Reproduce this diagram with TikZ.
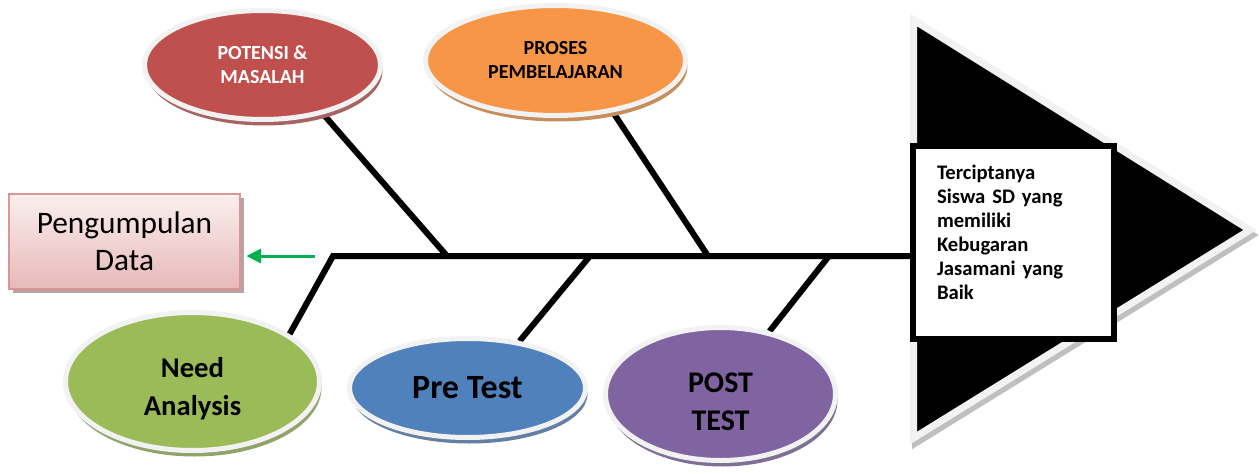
\documentclass[tikz,border=0pt]{standalone}
\usepackage{fontspec}
\setmainfont{Carlito}
\usepackage{xcolor}
\definecolor{fbred}{HTML}{C0504D}
\definecolor{fborange}{HTML}{F79646}
\definecolor{fbgreen}{HTML}{9BBB59}
\definecolor{fbblue}{HTML}{4F81BD}
\definecolor{fbpurple}{HTML}{8064A2}
\definecolor{fbrim}{HTML}{F2F2F2}
\definecolor{fbarrow}{HTML}{00B050}
\definecolor{fbpink}{HTML}{D99694}
\definecolor{fbpinktop}{HTML}{FBEFEF}
\definecolor{fbpinkbot}{HTML}{E6B9B8}
\definecolor{fbshade}{HTML}{B7A3A3}
\definecolor{fbheadshade}{HTML}{BFBFBF}
\usepackage{tikz}
\usetikzlibrary{arrows.meta,shapes.geometric,shadows,backgrounds}
\tikzset{
  fbblob/.style={ellipse,draw=fbrim,line width=3.75pt,fill=#1,inner sep=0pt,align=center,
    general shadow={fill=#1!60!gray,shadow xshift=1.5pt,shadow yshift=-4.5pt}},
  fbdata/.style={draw=fbpink,line width=1.5pt,top color=fbpinktop,bottom color=fbpinkbot,inner sep=0pt,align=center,
    general shadow={fill=fbshade,shadow xshift=3pt,shadow yshift=-3pt}},
  fbresult/.style={draw=black,line width=4.5pt,fill=white,inner sep=0pt,align=left},
  fbrib/.style={line width=4.5pt,black},
  fbflow/.style={-{Triangle[length=11pt,width=10.5pt]},line width=2.25pt,fbarrow,shorten >=4pt},
  fbhead/.style={line width=5.25pt,line join=miter},
}

\begin{document}
\begin{tikzpicture}[x=0.75pt,y=-0.75pt]
\useasboundingbox (0,0) rectangle (1259,474);
\node[fbdata,minimum width=173.25pt,minimum height=71.25pt,font=\fontsize{23.5}{28}\selectfont] (data) at (124.5,241.5) {Pengumpulan\\Data};
\node[fbblob=fbred,minimum width=177pt,minimum height=81.75pt,text=white,font=\fontsize{15}{18}\selectfont\bfseries] (pot) at (262.5,65) {POTENSI \&\\MASALAH};
\node[fbblob=fborange,minimum width=195pt,minimum height=82.5pt,font=\fontsize{15}{18}\selectfont\bfseries] (pro) at (555.5,60.5) {PROSES\\PEMBELAJARAN};
\node[fbblob=fbgreen,minimum width=190.5pt,minimum height=103.5pt,font=\fontsize{21.5}{28.5}\selectfont\bfseries] (need) at (192.5,381.5) {\rule{0pt}{25.5pt}Need\\Analysis};
\node[fbblob=fbblue,minimum width=177pt,minimum height=74.25pt,font=\fontsize{25.5}{30}\selectfont\bfseries] (pre) at (467.5,388) {Pre Test};
\node[fbblob=fbpurple,minimum width=172.5pt,minimum height=99.75pt,font=\fontsize{22.5}{28.5}\selectfont\bfseries] (post) at (720.5,394) {\rule{0pt}{26.5pt}POST\\TEST};
\node[fbresult,minimum width=150.75pt,minimum height=144.75pt,text width=114.75pt,font=\fontsize{15.5}{18}\selectfont\bfseries] (res) at (1013.5,242.5) {Terciptanya\\Siswa SD yang\\memiliki\\Kebugaran\\Jasamani yang\\Baik\rule[-15.75pt]{0pt}{15.75pt}};
\coordinate (tail) at (333,256);
\coordinate (j1) at (447,256);
\coordinate (j2) at (708,256);
\coordinate (j3) at (590,256);
\coordinate (j4) at (829,256);
\coordinate (gfrom) at (315,256);
\begin{scope}[on background layer]
\filldraw[fbhead,fill=fbheadshade,draw=fbheadshade,shift={(2,5)}] (913.5,20) -- (1250,230) -- (913.5,438) -- cycle;
\filldraw[fbhead,fill=black,draw=fbrim] (913.5,20) -- (1250,230) -- (913.5,438) -- cycle;
\draw[fbrib] (need.26) -- (tail) -- (tail -| res.west);
\draw[fbrib] (pot.-39) -- (j1);
\draw[fbrib] (pro.-42) -- (j2);
\draw[fbrib] (pre.42) -- (j3);
\draw[fbrib] (post.52) -- (j4);
\end{scope}
\draw[fbflow] (gfrom) -- (data.east |- gfrom);
\end{tikzpicture}
\end{document}
